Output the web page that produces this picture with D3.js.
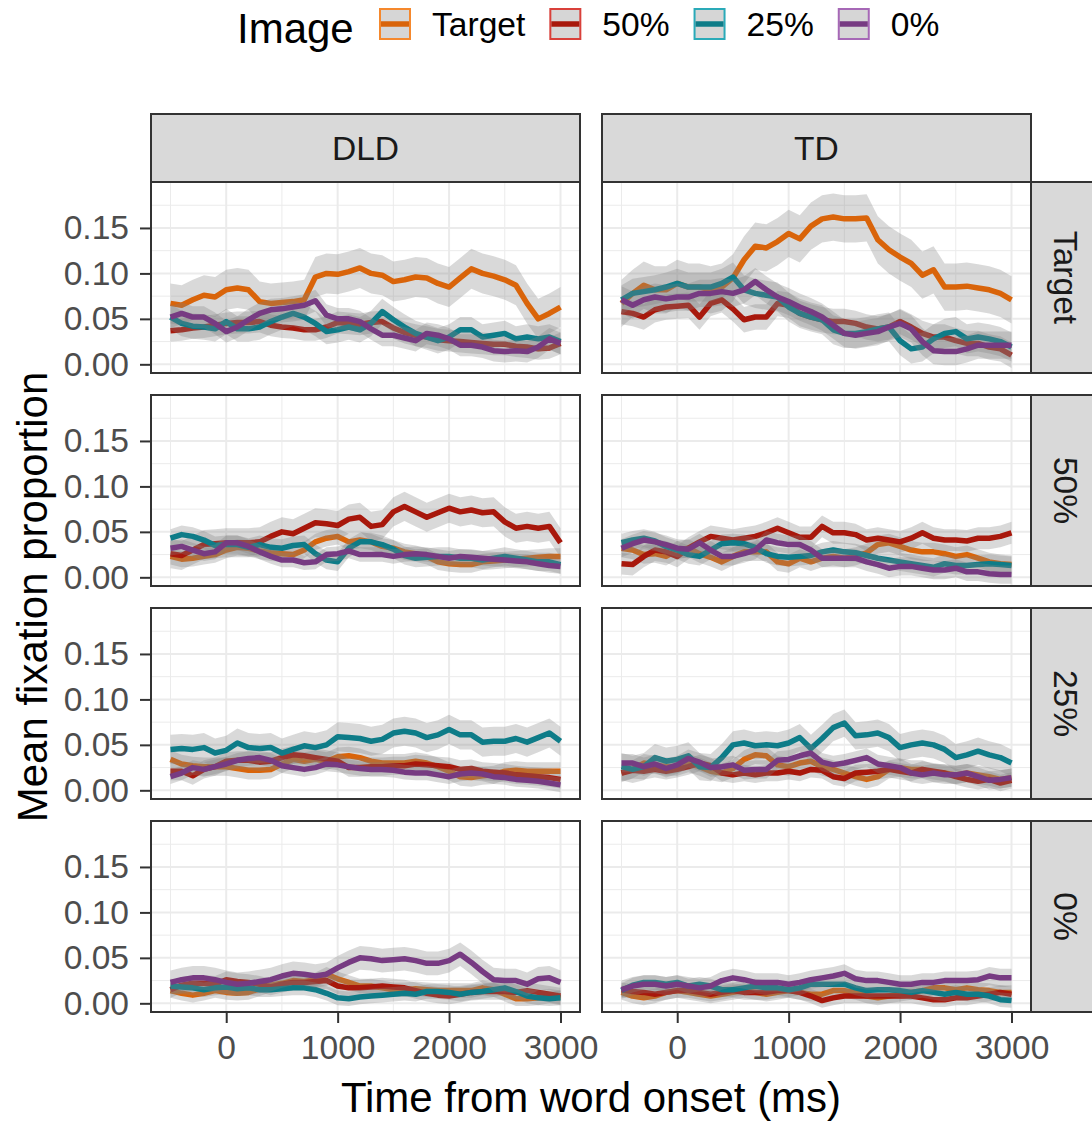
<!DOCTYPE html>
<html>
<head>
<meta charset="utf-8">
<script src="https://cdn.jsdelivr.net/npm/d3@7"></script>
<style>
  body { margin: 0; background: #fff; }
  svg { display: block; }
</style>
</head>
<body>
<div id="mainContainer"><svg></svg></div>
<script>
const SVG_WIDTH = 1092;
const SVG_HEIGHT = 1124;

// facets and series
const groups = ["DLD", "TD"];
const aoiRows = ["Target", "50%", "25%", "0%"];
const imageTypes = ["Target", "50%", "25%", "0%"];
const imageColors = ["#D9640A", "#A8180C", "#0E7C88", "#773B82"];
const keyBorderColors = ["#F5882D", "#D9403A", "#2AAAB8", "#A668B6"];

const timeMs = [-500, -400, -300, -200, -100, 0, 100, 200, 300, 400, 500, 600,
  700, 800, 900, 1000, 1100, 1200, 1300, 1400, 1500, 1600, 1700, 1800,
  1900, 2000, 2100, 2200, 2300, 2400, 2500, 2600, 2700, 2800, 2900, 3000];

const xTicks = [0, 1000, 2000, 3000];
const xMinor = [-500, 500, 1500, 2500];
const yTicks = [0, 0.05, 0.10, 0.15];
const yMinor = [0.025, 0.075, 0.125, 0.175];
const X_LIMITS = [-500, 3000];
const Y_LIMITS = [0, 0.191];

// DLD / Target row
const dldTarget_Target = [0.067,0.065,0.071,0.076,0.074,0.082,0.084,0.082,0.069,0.067,0.068,0.069,0.071,0.096,0.100,0.099,0.102,0.106,0.100,0.098,0.091,0.093,0.096,0.095,0.089,0.085,0.095,0.105,0.100,0.097,0.093,0.087,0.067,0.050,0.056,0.063];
const dldTarget_50 = [0.037,0.038,0.040,0.041,0.043,0.045,0.046,0.046,0.047,0.043,0.041,0.040,0.038,0.038,0.041,0.046,0.045,0.044,0.046,0.047,0.040,0.035,0.032,0.030,0.027,0.026,0.025,0.024,0.023,0.022,0.022,0.020,0.019,0.017,0.018,0.023];
const dldTarget_25 = [0.052,0.045,0.042,0.041,0.039,0.047,0.039,0.039,0.041,0.047,0.052,0.056,0.052,0.045,0.036,0.038,0.041,0.038,0.045,0.058,0.049,0.041,0.034,0.030,0.026,0.030,0.038,0.038,0.030,0.032,0.034,0.028,0.030,0.028,0.030,0.025];
const dldTarget_0 = [0.052,0.056,0.052,0.052,0.045,0.036,0.041,0.049,0.056,0.060,0.061,0.063,0.065,0.070,0.054,0.050,0.050,0.047,0.039,0.032,0.032,0.029,0.026,0.034,0.032,0.028,0.021,0.021,0.019,0.015,0.014,0.015,0.014,0.019,0.028,0.023];
const se_dldTarget = [0.022, 0.012, 0.014, 0.012];

// TD / Target row
const tdTarget_Target = [0.067,0.078,0.087,0.082,0.082,0.089,0.085,0.085,0.082,0.085,0.095,0.115,0.130,0.128,0.135,0.144,0.138,0.152,0.160,0.162,0.160,0.160,0.161,0.137,0.126,0.118,0.111,0.098,0.104,0.085,0.085,0.086,0.084,0.082,0.078,0.071];
const tdTarget_50 = [0.058,0.056,0.052,0.060,0.063,0.064,0.065,0.052,0.067,0.071,0.061,0.049,0.052,0.052,0.067,0.065,0.056,0.052,0.049,0.047,0.047,0.045,0.041,0.039,0.041,0.047,0.041,0.034,0.030,0.030,0.026,0.023,0.023,0.019,0.017,0.010];
const tdTarget_25 = [0.071,0.078,0.080,0.082,0.085,0.089,0.085,0.085,0.085,0.089,0.096,0.082,0.078,0.076,0.074,0.063,0.056,0.052,0.049,0.038,0.034,0.034,0.036,0.039,0.041,0.026,0.017,0.019,0.028,0.034,0.036,0.028,0.030,0.028,0.025,0.019];
const tdTarget_0 = [0.071,0.065,0.071,0.074,0.072,0.074,0.074,0.078,0.078,0.080,0.078,0.082,0.091,0.082,0.074,0.069,0.063,0.058,0.052,0.043,0.034,0.032,0.034,0.036,0.041,0.045,0.039,0.025,0.015,0.014,0.014,0.017,0.021,0.021,0.021,0.021];
const se_tdTarget = [0.026, 0.014, 0.016, 0.015];

// DLD / 50% row
const dld50_Target = [0.023,0.020,0.021,0.023,0.025,0.030,0.033,0.032,0.029,0.027,0.026,0.025,0.030,0.039,0.043,0.045,0.039,0.041,0.039,0.034,0.032,0.028,0.026,0.023,0.017,0.015,0.014,0.014,0.017,0.018,0.019,0.020,0.021,0.022,0.023,0.023];
const dld50_50 = [0.026,0.024,0.030,0.036,0.037,0.038,0.038,0.038,0.039,0.045,0.050,0.048,0.054,0.060,0.059,0.057,0.064,0.066,0.056,0.058,0.072,0.078,0.072,0.066,0.071,0.076,0.072,0.074,0.071,0.072,0.061,0.054,0.056,0.054,0.056,0.038];
const dld50_25 = [0.043,0.047,0.045,0.041,0.035,0.036,0.036,0.033,0.036,0.033,0.032,0.035,0.036,0.026,0.019,0.017,0.032,0.039,0.039,0.036,0.031,0.024,0.021,0.022,0.023,0.023,0.021,0.021,0.019,0.021,0.023,0.021,0.019,0.017,0.017,0.014];
const dld50_0 = [0.032,0.034,0.030,0.026,0.028,0.038,0.038,0.034,0.028,0.023,0.019,0.019,0.016,0.017,0.025,0.026,0.029,0.025,0.025,0.025,0.023,0.025,0.026,0.025,0.023,0.021,0.023,0.022,0.021,0.020,0.019,0.018,0.017,0.015,0.013,0.012];
const se_dld50 = [0.009, 0.016, 0.010, 0.008];

// TD / 50% row
const td50_Target = [0.032,0.030,0.025,0.026,0.023,0.030,0.032,0.026,0.022,0.017,0.023,0.028,0.028,0.028,0.017,0.015,0.021,0.017,0.021,0.023,0.021,0.023,0.027,0.036,0.038,0.034,0.030,0.028,0.028,0.026,0.023,0.025,0.021,0.017,0.015,0.014];
const td50_50 = [0.015,0.014,0.023,0.030,0.028,0.023,0.032,0.039,0.045,0.043,0.041,0.043,0.045,0.049,0.054,0.049,0.044,0.044,0.056,0.049,0.049,0.047,0.041,0.043,0.041,0.039,0.043,0.049,0.043,0.041,0.041,0.040,0.043,0.043,0.045,0.049];
const td50_25 = [0.038,0.041,0.043,0.040,0.034,0.030,0.025,0.023,0.030,0.037,0.038,0.037,0.033,0.026,0.023,0.022,0.023,0.024,0.028,0.030,0.028,0.027,0.024,0.021,0.019,0.017,0.015,0.013,0.011,0.015,0.013,0.013,0.014,0.015,0.014,0.013];
const td50_0 = [0.032,0.037,0.041,0.039,0.036,0.032,0.031,0.038,0.030,0.023,0.023,0.026,0.030,0.041,0.038,0.036,0.036,0.030,0.021,0.021,0.021,0.021,0.017,0.014,0.010,0.012,0.012,0.010,0.008,0.008,0.010,0.006,0.006,0.004,0.003,0.003];
const se_td50 = [0.010, 0.012, 0.010, 0.010];

// DLD / 25% row
const dld25_Target = [0.034,0.029,0.027,0.026,0.026,0.026,0.024,0.022,0.022,0.023,0.029,0.034,0.032,0.034,0.032,0.037,0.038,0.036,0.032,0.030,0.030,0.030,0.032,0.030,0.026,0.021,0.015,0.014,0.016,0.017,0.021,0.022,0.021,0.021,0.021,0.021];
const dld25_50 = [0.021,0.021,0.016,0.023,0.026,0.032,0.033,0.033,0.031,0.032,0.036,0.039,0.038,0.036,0.034,0.032,0.025,0.025,0.026,0.026,0.027,0.027,0.029,0.028,0.027,0.026,0.023,0.024,0.021,0.020,0.019,0.017,0.016,0.015,0.014,0.012];
const dld25_25 = [0.045,0.046,0.045,0.047,0.041,0.044,0.052,0.047,0.046,0.047,0.041,0.045,0.049,0.047,0.050,0.059,0.058,0.057,0.054,0.056,0.063,0.065,0.063,0.058,0.061,0.067,0.061,0.061,0.053,0.054,0.054,0.057,0.053,0.058,0.063,0.054];
const dld25_0 = [0.015,0.019,0.025,0.023,0.026,0.029,0.033,0.035,0.036,0.033,0.027,0.025,0.023,0.025,0.029,0.028,0.026,0.024,0.023,0.023,0.022,0.020,0.019,0.019,0.017,0.015,0.018,0.019,0.018,0.015,0.014,0.012,0.011,0.010,0.008,0.006];
const se_dld25 = [0.010, 0.010, 0.016, 0.008];

// TD / 25% row
const td25_Target = [0.019,0.023,0.030,0.028,0.026,0.026,0.030,0.026,0.021,0.019,0.024,0.034,0.039,0.038,0.028,0.026,0.030,0.032,0.026,0.023,0.019,0.015,0.012,0.015,0.023,0.025,0.023,0.023,0.019,0.019,0.017,0.019,0.017,0.015,0.012,0.014];
const td25_50 = [0.019,0.022,0.021,0.023,0.021,0.023,0.026,0.030,0.027,0.019,0.017,0.019,0.017,0.019,0.019,0.021,0.019,0.023,0.022,0.015,0.013,0.019,0.020,0.021,0.023,0.021,0.019,0.023,0.021,0.019,0.015,0.012,0.010,0.012,0.008,0.011];
const td25_25 = [0.026,0.023,0.026,0.036,0.032,0.034,0.038,0.026,0.025,0.036,0.050,0.052,0.049,0.050,0.049,0.052,0.058,0.046,0.057,0.069,0.074,0.060,0.061,0.063,0.058,0.047,0.050,0.052,0.050,0.045,0.036,0.039,0.043,0.039,0.036,0.030];
const td25_0 = [0.030,0.030,0.026,0.029,0.024,0.028,0.035,0.031,0.025,0.026,0.028,0.022,0.023,0.023,0.033,0.034,0.038,0.041,0.031,0.028,0.030,0.033,0.036,0.029,0.027,0.025,0.019,0.017,0.019,0.017,0.017,0.019,0.015,0.011,0.012,0.014];
const se_td25 = [0.010, 0.009, 0.015, 0.010];

// DLD / 0% row
const dld0_Target = [0.014,0.011,0.009,0.011,0.014,0.012,0.011,0.012,0.016,0.020,0.022,0.025,0.024,0.026,0.032,0.027,0.023,0.019,0.019,0.017,0.015,0.015,0.016,0.015,0.014,0.014,0.014,0.014,0.017,0.015,0.010,0.005,0.005,0.006,0.008,0.006];
const dld0_50 = [0.015,0.020,0.022,0.022,0.021,0.026,0.024,0.023,0.021,0.018,0.021,0.023,0.023,0.024,0.025,0.019,0.017,0.017,0.018,0.019,0.018,0.017,0.014,0.011,0.009,0.008,0.010,0.012,0.013,0.013,0.013,0.012,0.014,0.012,0.010,0.008];
const dld0_25 = [0.019,0.018,0.017,0.015,0.017,0.018,0.016,0.017,0.015,0.015,0.016,0.017,0.017,0.015,0.011,0.006,0.005,0.007,0.008,0.009,0.010,0.011,0.010,0.013,0.013,0.012,0.010,0.012,0.013,0.015,0.017,0.013,0.008,0.006,0.005,0.006];
const dld0_0 = [0.023,0.026,0.028,0.028,0.026,0.023,0.021,0.022,0.024,0.026,0.030,0.033,0.032,0.030,0.032,0.039,0.045,0.050,0.049,0.047,0.048,0.049,0.047,0.044,0.044,0.047,0.054,0.045,0.035,0.026,0.025,0.025,0.021,0.027,0.028,0.023];
const se_dld0 = [0.008, 0.009, 0.008, 0.013];

// TD / 0% row
const td0_Target = [0.012,0.008,0.006,0.008,0.012,0.014,0.012,0.010,0.008,0.010,0.012,0.014,0.012,0.010,0.012,0.014,0.012,0.010,0.010,0.014,0.014,0.012,0.008,0.006,0.008,0.010,0.012,0.014,0.017,0.017,0.015,0.017,0.015,0.014,0.012,0.012];
const td0_50 = [0.015,0.013,0.012,0.010,0.012,0.014,0.014,0.012,0.010,0.012,0.014,0.012,0.012,0.012,0.014,0.014,0.012,0.008,0.003,0.006,0.008,0.008,0.008,0.008,0.008,0.008,0.008,0.006,0.004,0.004,0.006,0.006,0.008,0.010,0.012,0.010];
const td0_25 = [0.014,0.020,0.023,0.023,0.021,0.023,0.019,0.021,0.019,0.015,0.015,0.017,0.019,0.017,0.017,0.015,0.017,0.021,0.021,0.021,0.021,0.017,0.014,0.015,0.015,0.014,0.012,0.014,0.012,0.010,0.012,0.010,0.010,0.008,0.004,0.003];
const td0_0 = [0.015,0.019,0.021,0.021,0.019,0.021,0.019,0.017,0.019,0.025,0.028,0.026,0.023,0.023,0.023,0.021,0.023,0.026,0.028,0.030,0.033,0.027,0.025,0.025,0.023,0.021,0.021,0.023,0.023,0.025,0.025,0.025,0.026,0.030,0.028,0.028];
const se_td0 = [0.008, 0.008, 0.008, 0.010];

// panel table built from the arrays above
const panels = [
  { col: 0, row: 0, series: [dldTarget_Target, dldTarget_50, dldTarget_25, dldTarget_0], se: se_dldTarget },
  { col: 1, row: 0, series: [tdTarget_Target, tdTarget_50, tdTarget_25, tdTarget_0], se: se_tdTarget },
  { col: 0, row: 1, series: [dld50_Target, dld50_50, dld50_25, dld50_0], se: se_dld50 },
  { col: 1, row: 1, series: [td50_Target, td50_50, td50_25, td50_0], se: se_td50 },
  { col: 0, row: 2, series: [dld25_Target, dld25_50, dld25_25, dld25_0], se: se_dld25 },
  { col: 1, row: 2, series: [td25_Target, td25_50, td25_25, td25_0], se: se_td25 },
  { col: 0, row: 3, series: [dld0_Target, dld0_50, dld0_25, dld0_0], se: se_dld0 },
  { col: 1, row: 3, series: [td0_Target, td0_50, td0_25, td0_0], se: se_td0 }
];

// layout
const PANEL_W = 429, PANEL_H = 191;
const PANEL_LEFT = 151, PANEL_TOP = 182;
const GAP_X = 22, GAP_Y = 22;
const STRIP = 68;
const FONT = "'Liberation Sans', Arial, sans-serif";
const TICK_FONT = 33.6, TITLE_FONT = 42;

const colX = c => PANEL_LEFT + c * (PANEL_W + GAP_X);
const rowY = r => PANEL_TOP + r * (PANEL_H + GAP_Y);

const expand = ([a, b]) => [a - (b - a) * 0.05, b + (b - a) * 0.05];
const x = d3.scaleLinear().domain(expand(X_LIMITS)).range([0, PANEL_W]);
const y = d3.scaleLinear().domain(expand(Y_LIMITS)).range([PANEL_H, 0]);

let svg = d3.select('#mainContainer').select('svg')
    .attr('width', SVG_WIDTH)
    .attr('height', SVG_HEIGHT)
    .style('font-family', FONT);

// column strips
groups.forEach((g, c) => {
    let s = svg.append('g').attr('transform', `translate(${colX(c)},${PANEL_TOP - STRIP})`);
    s.append('rect').attr('width', PANEL_W).attr('height', STRIP)
        .attr('fill', '#D9D9D9').attr('stroke', '#333333').attr('stroke-width', 2);
    s.append('text').attr('x', PANEL_W / 2).attr('y', STRIP / 2)
        .attr('text-anchor', 'middle').attr('dominant-baseline', 'central')
        .attr('font-size', TICK_FONT).attr('fill', '#1A1A1A').text(g);
});

// row strips
aoiRows.forEach((a, r) => {
    let sx = colX(1) + PANEL_W;
    let s = svg.append('g').attr('transform', `translate(${sx},${rowY(r)})`);
    s.append('rect').attr('width', STRIP).attr('height', PANEL_H)
        .attr('fill', '#D9D9D9').attr('stroke', '#333333').attr('stroke-width', 2);
    s.append('text')
        .attr('transform', `translate(${STRIP / 2},${PANEL_H / 2}) rotate(90)`)
        .attr('text-anchor', 'middle').attr('dominant-baseline', 'central')
        .attr('font-size', TICK_FONT).attr('fill', '#1A1A1A').text(a);
});

const area = (vals, se) => d3.area()
    .x((d, i) => x(timeMs[i]))
    .y0((d, i) => y(vals[i] - se))
    .y1((d, i) => y(vals[i] + se))(vals);
const line = d3.line().x((d, i) => x(timeMs[i])).y(d => y(d));

panels.forEach((p, k) => {
    let g = svg.append('g').attr('transform', `translate(${colX(p.col)},${rowY(p.row)})`);
    g.append('rect').attr('width', PANEL_W).attr('height', PANEL_H).attr('fill', '#fff');

    // grid
    g.selectAll('.xminor').data(xMinor).enter().append('line')
        .attr('x1', d => x(d)).attr('x2', d => x(d)).attr('y1', 0).attr('y2', PANEL_H)
        .attr('stroke', '#EBEBEB').attr('stroke-width', 1);
    g.selectAll('.yminor').data(yMinor).enter().append('line')
        .attr('y1', d => y(d)).attr('y2', d => y(d)).attr('x1', 0).attr('x2', PANEL_W)
        .attr('stroke', '#EBEBEB').attr('stroke-width', 1);
    g.selectAll('.xmajor').data(xTicks).enter().append('line')
        .attr('x1', d => x(d)).attr('x2', d => x(d)).attr('y1', 0).attr('y2', PANEL_H)
        .attr('stroke', '#EBEBEB').attr('stroke-width', 2);
    g.selectAll('.ymajor').data(yTicks).enter().append('line')
        .attr('y1', d => y(d)).attr('y2', d => y(d)).attr('x1', 0).attr('x2', PANEL_W)
        .attr('stroke', '#EBEBEB').attr('stroke-width', 2);

    // clip
    let clipId = `clip${k}`;
    g.append('clipPath').attr('id', clipId).append('rect')
        .attr('width', PANEL_W).attr('height', PANEL_H);
    let plot = g.append('g').attr('clip-path', `url(#${clipId})`);

    p.series.forEach((vals, i) => {
        plot.append('path').attr('d', area(vals, p.se[i]))
            .attr('fill', '#808080').attr('fill-opacity', 0.3);
        plot.append('path').attr('d', line(vals))
            .attr('fill', 'none').attr('stroke', imageColors[i])
            .attr('stroke-width', 5.5).attr('stroke-linejoin', 'round');
    });

    g.append('rect').attr('width', PANEL_W).attr('height', PANEL_H)
        .attr('fill', 'none').attr('stroke', '#333333').attr('stroke-width', 2);

    // axes
    if (p.col === 0) {
        let ax = g.append('g').call(d3.axisLeft(y).tickValues(yTicks)
            .tickFormat(d3.format('.2f')).tickSize(11).tickPadding(11));
        ax.select('.domain').remove();
        ax.selectAll('line').attr('stroke', '#333333').attr('stroke-width', 2);
        ax.selectAll('text').attr('font-size', TICK_FONT).attr('font-family', FONT)
            .attr('fill', '#4D4D4D');
    }
    if (p.row === 3) {
        let ax = g.append('g').attr('transform', `translate(0,${PANEL_H})`)
            .call(d3.axisBottom(x).tickValues(xTicks).tickFormat(d3.format('d'))
            .tickSize(11).tickPadding(12));
        ax.select('.domain').remove();
        ax.selectAll('line').attr('stroke', '#333333').attr('stroke-width', 2);
        ax.selectAll('text').attr('font-size', TICK_FONT).attr('font-family', FONT)
            .attr('fill', '#4D4D4D');
    }
});

// axis titles
svg.append('text')
    .attr('x', colX(0) + (colX(1) + PANEL_W - colX(0)) / 2).attr('y', 1112)
    .attr('text-anchor', 'middle').attr('font-size', TITLE_FONT).attr('fill', '#000')
    .text('Time from word onset (ms)');
svg.append('text')
    .attr('transform', `translate(47,${rowY(0) + (rowY(3) + PANEL_H - rowY(0)) / 2}) rotate(-90)`)
    .attr('text-anchor', 'middle').attr('font-size', TITLE_FONT).attr('fill', '#000')
    .text('Mean fixation proportion');

// legend
let legend = svg.append('g');
legend.append('text').attr('x', 237).attr('y', 43)
    .attr('font-size', TITLE_FONT).attr('fill', '#000').text('Image');
let keyX = 379;
imageTypes.forEach((name, i) => {
    let k = legend.append('g').attr('transform', `translate(${keyX},8)`);
    k.append('rect').attr('x', 1).attr('y', 1).attr('width', 30).attr('height', 30)
        .attr('fill', '#D6D6D6').attr('stroke', keyBorderColors[i]).attr('stroke-width', 2);
    k.append('line').attr('x1', 2).attr('x2', 30).attr('y1', 16).attr('y2', 16)
        .attr('stroke', imageColors[i]).attr('stroke-width', 5.5);
    let t = legend.append('text').attr('x', keyX + 53).attr('y', 36)
        .attr('font-size', TICK_FONT).attr('fill', '#000').text(name);
    keyX += 53 + t.node().getComputedTextLength() + 24;
});
</script>
</body>
</html>
